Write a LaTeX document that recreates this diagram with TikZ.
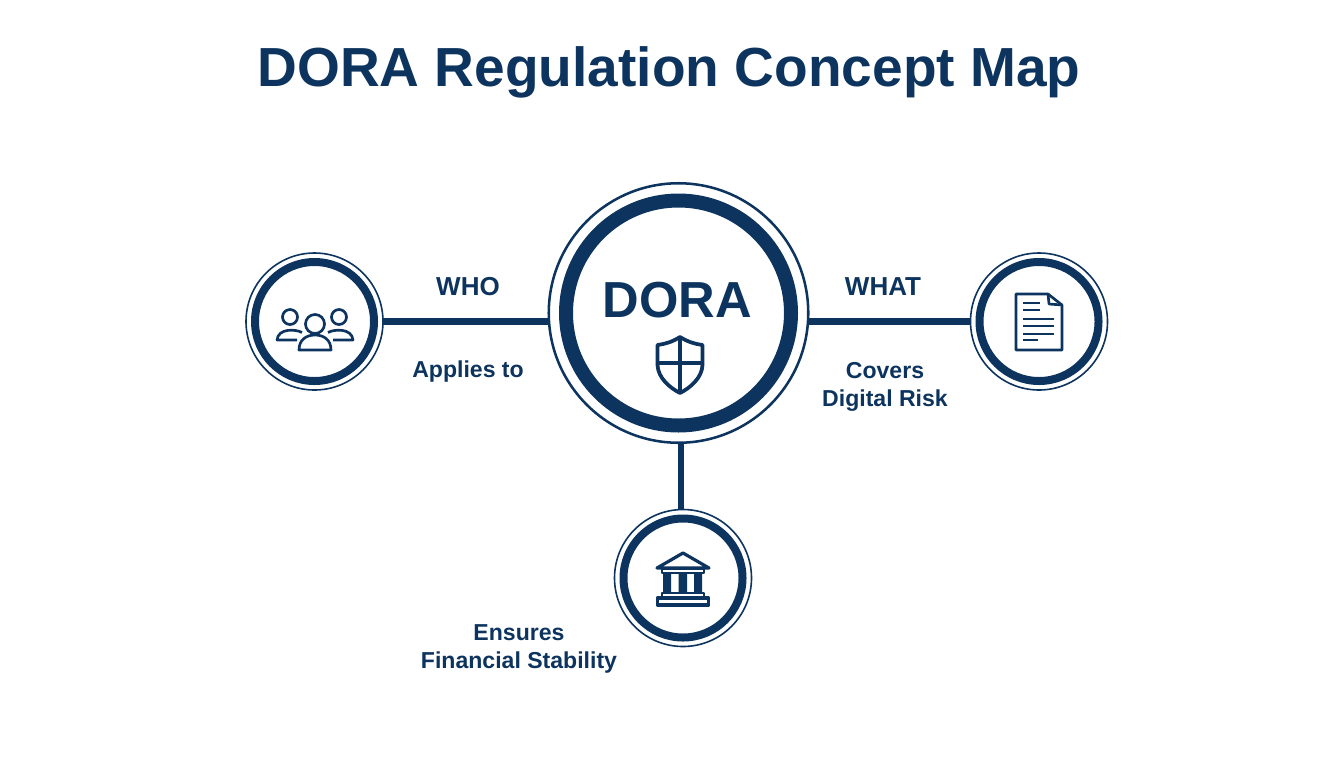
\documentclass[tikz,border=0pt]{standalone}
\usepackage{fontspec}
\setmainfont{Liberation Sans}
\definecolor{navy}{HTML}{0D345E}
\tikzset{
  bigring/.style={circle,draw=navy,line width=1.9pt,minimum size=259.5*0.75pt,outer sep=0pt,inner sep=0pt},
  bigband/.style={circle,draw=navy,line width=10.5pt,minimum size=225*0.75pt,outer sep=0pt,inner sep=0pt},
  smallring/.style={circle,draw=navy,line width=1.2pt,minimum size=137*0.75pt,fill=white,outer sep=0pt,inner sep=0pt},
  smallband/.style={circle,draw=navy,line width=6pt,minimum size=119*0.75pt,outer sep=0pt,inner sep=0pt},
  link/.style={draw=navy,line width=5pt},
  cue/.style={text=navy,font=\bfseries\fontsize{17.3}{21}\selectfont,align=center,inner sep=0pt},
  bigcue/.style={cue,font=\bfseries\fontsize{19.5}{21}\selectfont},
  icon/.style={draw=navy,line width=2pt,line join=round}
}
\begin{document}
\begin{tikzpicture}[x=0.75pt,y=-0.75pt]
\useasboundingbox (0,0) rectangle (1344,768);
% Draw title
\node[text=navy,font=\bfseries\fontsize{41.3}{50}\selectfont,inner sep=0pt] (title) at (669,72) {DORA Regulation Concept Map};
% Draw circles
\node[bigring] (dora) at (678.5,313) {};
\node[bigband] (doraband) at (dora) {};
\node[smallring] (people) at (314.5,321.5) {};
\node[smallband] (peopleband) at (people) {};
\node[smallring] (document) at (1039,321.5) {};
\node[smallband] (documentband) at (document) {};
\node[smallring] (bank) at (683,578) {};
\node[smallband] (bankband) at (bank) {};
% Draw connectors
\coordinate (stem) at (681,442);
\draw[link] (people.east) -- (people.east -| dora.west);
\draw[link] (document.west) -- (document.west -| dora.east);
\draw[link] (stem) -- (stem |- bank.north);
% Draw labels
\node[text=navy,font=\bfseries\fontsize{38}{46}\selectfont,inner sep=0pt] (doraname) at (677,300) {DORA};
\node[bigcue] (who) at (468,287) {WHO};
\node[cue] (applies) at (468,372) {Applies to};
\node[bigcue] (what) at (883,287) {WHAT};
\node[cue] (covers) at (885,386.5) {Covers\\Digital Risk};
\node[cue] (ensures) at (519,648.5) {Ensures\\Financial Stability};
% Draw shield
\draw[icon,line width=2.8pt] (680,337) .. controls (672,342) and (665,344) .. (657.5,345)
  -- (657.5,365) .. controls (658,378) and (670,388) .. (680,393)
  .. controls (690,388) and (702,378) .. (702.5,365) -- (702.5,345)
  .. controls (695,344) and (688,342) .. (680,337) -- cycle;
\draw[icon,line width=2.8pt] (680,337) -- (680,393) (657.5,363) -- (702.5,363);
% Draw people
\draw[icon] (315,324) circle (9.5);
\draw[icon] (290,317) circle (7.5);
\draw[icon] (339,317) circle (7.5);
\draw[icon] (299,350) .. controls (299,340) and (306,335) .. (315,335)
  .. controls (324,335) and (331,340) .. (331,350) -- cycle;
\draw[icon] (302,332.5) .. controls (296,329) and (278,328) .. (277,340) -- (297,340);
\draw[icon] (328,332.5) .. controls (334,329) and (352,328) .. (353,340) -- (333,340);
% Draw document
\draw[icon] (1016,294) -- (1048,294) -- (1062,305) -- (1062,350) -- (1016,350) -- cycle;
\draw[icon] (1048,294) -- (1049,304) -- (1062,305);
\draw[icon] (1023,303) -- (1040,303) (1023,310) -- (1040,310)
  (1023,319) -- (1054,319) (1023,326) -- (1054,326)
  (1023,334) -- (1054,334) (1023,340) -- (1038,340);
% Draw bank
\draw[icon,line width=2.4pt] (657,568) -- (683,553) -- (709,568) -- cycle;
\draw[icon] (662,568.5) rectangle (704,573);
\fill[navy] (663,573) rectangle (671,592) (678.5,573) rectangle (687,592) (694,573) rectangle (702,592);
\draw[icon] (662,593) rectangle (704,598);
\draw[icon,line width=2.4pt] (657.5,598) rectangle (708.5,605);
\end{tikzpicture}
\end{document}
